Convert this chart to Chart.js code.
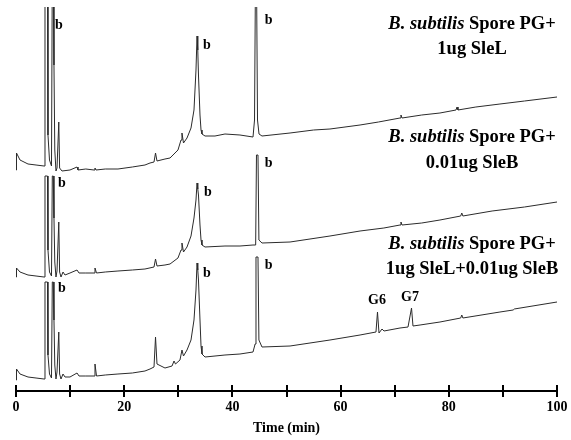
<!DOCTYPE html>
<html>
<head>
<meta charset="utf-8">
<script src="https://cdn.jsdelivr.net/npm/chart.js@4.4.1/dist/chart.umd.min.js"></script>
<style>
html,body{margin:0;padding:0;background:#fff;}
#wrap{width:571px;height:440px;position:relative;}
</style>
</head>
<body>
<div id="wrap"><canvas id="c"></canvas></div>
<script>
// ---------- DATA (time in min, detector signal in arbitrary units above each trace's own baseline) ----------
const xTickLabels = [0, 20, 40, 60, 80, 100];

const traceNames = ['1ug SleL', '0.01ug SleB', '1ug SleL+0.01ug SleB'];

// Top trace: B. subtilis spore PG + 1ug SleL
const sleLTime = [0,0.09,0.74,2.22,3.7,5.18,5.36,5.82,5.91,6.19,6.56,6.71,6.89,7.02,7.17,7.39,7.58,7.91,8.06,8.5,9.98,11.28,11.46,12.9,14.42,14.6,14.79,16.5,18.85,21.5,23.84,24.77,25.51,25.79,26.06,27.54,28.47,29.94,30.5,30.68,30.96,31.61,32.35,32.9,33.27,33.46,33.6,33.73,34.01,34.2,34.38,34.94,36.78,38.63,41.4,43.81,44.09,44.27,44.45,44.64,44.92,45.47,50.65,55,58.04,63.59,67,70.98,71.16,71.35,75,78.37,81.33,81.52,81.7,85,89.46,94,100];
const sleLSignal = [0,17,10,6,5,4,200,200,35,10,4,200,200,105,20,-1,2,48,2,-1,0,3,0,1,0,2,0,1,1,3,5,7,8,17,9,11,12,20,30,37,27,32,42,60,100,134,120,95,55,40,36,34,34,36,35,33,50,200,200,50,36,34,37,40,41,45,48,52,55,52,55,57,60,63,60,63,66,69,73];

// Middle trace: B. subtilis spore PG + 0.01ug SleB
const sleBTime = [0,0.09,0.74,2.22,3.7,5.18,5.36,5.82,5.91,6.19,6.56,6.71,6.89,7.02,7.17,7.39,7.58,7.91,8.06,8.32,8.69,9.06,9.98,11.28,11.65,12.9,14.42,14.6,14.88,16.5,18.85,21.5,23.84,25.51,25.79,26.06,27.54,28.47,29.94,30.5,30.68,30.96,31.61,32.35,32.9,33.27,33.46,33.6,33.73,34.01,34.2,34.38,34.94,38.63,41.4,43.81,44.3,44.45,44.73,44.9,45.47,50.65,58.04,63.59,68,70.98,71.16,71.35,75,78.37,82.2,82.4,82.6,88,94,100];
const sleBSignal = [0,9,5,2,1,0,101,101,27,5,1,101,101,59,15,0,6,55,5,0,5,2,4,7,4,4,4,9,4,5,6,7,8,10,18,11,12,13,19,27,34,25,30,41,59,77,94,88,82,52,37,32,30,31,31,32,32,122,122,37,34,35,41,46,49,52,55,52,54,57,61,64,61,66,70,75];

// Bottom trace: B. subtilis spore PG + 1ug SleL + 0.01ug SleB
const bothTime = [0,0.09,0.74,2.22,3.7,5.18,5.36,5.82,5.91,6.19,6.56,6.71,6.89,7.02,7.17,7.39,7.58,7.91,8.06,8.32,8.69,9.06,9.98,11.28,11.65,12.9,14.42,14.6,14.88,16.5,18.85,21.5,23.84,24.77,25.51,25.79,26.06,27.54,28.84,29.21,29.48,30.31,30.68,30.96,31.61,32.35,32.9,33.27,33.46,33.6,33.73,34.01,34.2,34.38,34.94,38.63,41.4,43.81,44.2,44.36,44.73,44.9,45.47,50.65,58.04,63.59,66.54,66.82,67.1,67.65,68.02,70.98,72.46,73.11,73.38,74.68,78.37,82.2,82.4,82.6,89.46,91.9,92.1,100];
const bothSignal = [0,11,6,3,2,1,98,98,25,6,2,98,98,60,15,1,8,48,6,1,6,3,3,7,4,4,4,16,4,5,6,7,9,11,13,43,16,12,14,19,16,20,30,24,30,40,60,90,117,110,100,60,34,26,23,25,26,28,36,123,123,40,33,34,40,45,48,68,47,51,49,52,53,72,54,55,58,62,65,62,68,70,71,78];

// Peak labels: [text, time, trace index, signal level of label]
const peakLabels = [
  ['b', 7.2, 0, 145], ['b', 34.57, 0, 125], ['b', 46.0, 0, 150],
  ['b', 7.76, 1, 94], ['b', 34.75, 1, 85], ['b', 46.0, 1, 114],
  ['b', 7.76, 2, 92], ['b', 34.57, 2, 107], ['b', 46.0, 2, 115],
  ['G6', 66.73, 2, 80], ['G7', 72.83, 2, 83]
];

// ---------- LAYOUT / STYLE ----------
const traceOffsets = [221, 114, 11];          // vertical stacking of the three traces
const labelLine1Y = [367, 254, 147];          // sample label positions (chart y units)
const labelLine2Y = [342, 228, 122];
const labelCenterT = 84.3;
const serif = '"Liberation Serif","Times New Roman",serif';

function pts(ts, ss, off) { return ts.map((t, i) => ({ x: t, y: ss[i] + off })); }

const datasets = [
  [sleLTime, sleLSignal], [sleBTime, sleBSignal], [bothTime, bothSignal]
].map((p, i) => ({
  label: traceNames[i],
  data: pts(p[0], p[1], traceOffsets[i]),
  borderColor: '#2b2b2b',
  borderWidth: 1,
  pointRadius: 0,
  tension: 0,
  fill: false
}));

const overlayPlugin = {
  id: 'overlay',
  afterDraw(chart) {
    const ctx = chart.ctx, xs = chart.scales.x, ys = chart.scales.y;
    const bottom = chart.chartArea.bottom;
    ctx.save();
    // upper halves of the crossing tick marks
    ctx.strokeStyle = '#000';
    ctx.lineWidth = 2;
    xs.ticks.forEach(tk => {
      const px = Math.round(xs.getPixelForValue(tk.value));
      ctx.beginPath(); ctx.moveTo(px, bottom - 6); ctx.lineTo(px, bottom); ctx.stroke();
    });
    ctx.fillStyle = '#000';
    ctx.textBaseline = 'middle';
    // peak labels
    peakLabels.forEach(([txt, t, tr, s]) => {
      ctx.font = 'bold 14px ' + serif;
      ctx.textAlign = txt === 'b' ? 'left' : 'center';
      ctx.fillText(txt, xs.getPixelForValue(t), ys.getPixelForValue(s + traceOffsets[tr]));
    });
    // sample labels
    const cx = xs.getPixelForValue(labelCenterT);
    const fs = '18.5px ';
    ctx.textAlign = 'left';
    for (let i = 0; i < 3; i++) {
      const y1 = ys.getPixelForValue(labelLine1Y[i]);
      const y2 = ys.getPixelForValue(labelLine2Y[i]);
      const a = 'B. subtilis', b = ' Spore PG+';
      ctx.font = 'italic bold ' + fs + serif; const wa = ctx.measureText(a).width;
      ctx.font = 'bold ' + fs + serif; const wb = ctx.measureText(b).width;
      const x0 = cx - (wa + wb) / 2;
      ctx.font = 'italic bold ' + fs + serif; ctx.fillText(a, x0, y1);
      ctx.font = 'bold ' + fs + serif; ctx.fillText(b, x0 + wa, y1);
      ctx.textAlign = 'center'; ctx.fillText(traceNames[i], cx, y2); ctx.textAlign = 'left';
    }
    ctx.restore();
  }
};

new Chart(document.getElementById('c'), {
  type: 'line',
  data: { datasets },
  options: {
    responsive: true,
    maintainAspectRatio: false,
    animation: false,
    devicePixelRatio: 1,
    layout: { padding: { left: 16, right: 14, top: 7, bottom: 0 } },
    plugins: { legend: { display: false }, tooltip: { enabled: false } },
    scales: {
      x: {
        type: 'linear', min: 0, max: 100,
        afterFit: s => { s.height = 49; },
        ticks: {
          stepSize: 10, autoSkip: false, maxRotation: 0, padding: 2,
          color: '#000', font: { family: serif, size: 14, weight: 'bold' },
          callback: v => xTickLabels.includes(v) ? String(v) : ''
        },
        grid: { display: true, drawOnChartArea: false, drawTicks: true, tickLength: 6, color: '#000', lineWidth: 2 },
        border: { display: true, color: '#000', width: 2 },
        title: { display: true, text: 'Time (min)', color: '#000', font: { family: serif, size: 14, weight: 'bold' }, padding: { top: 4, bottom: 3 } }
      },
      y: { display: false, min: 0, max: 384 }
    }
  },
  plugins: [overlayPlugin]
});
</script>
</body>
</html>
